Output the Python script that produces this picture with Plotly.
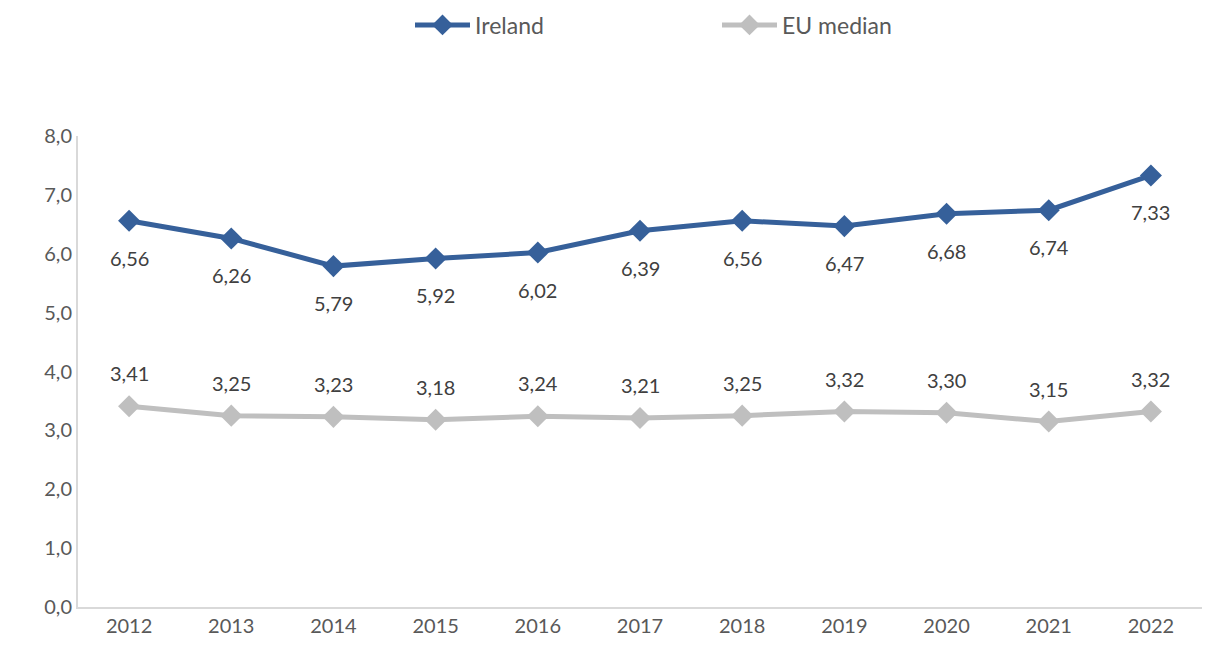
import plotly.graph_objects as go

years = ["2012", "2013", "2014", "2015", "2016", "2017", "2018", "2019", "2020", "2021", "2022"]
ireland = [6.56, 6.26, 5.79, 5.92, 6.02, 6.39, 6.56, 6.47, 6.68, 6.74, 7.33]
eu_median = [3.41, 3.25, 3.23, 3.18, 3.24, 3.21, 3.25, 3.32, 3.30, 3.15, 3.32]
y_ticks = [0, 1, 2, 3, 4, 5, 6, 7, 8]
y_tick_labels = ["0,0", "1,0", "2,0", "3,0", "4,0", "5,0", "6,0", "7,0", "8,0"]

IE_COLOR = "#36609A"
EU_COLOR = "#BFBFBF"
TEXT_COLOR = "#595959"
FONT = "Lato, Open Sans, sans-serif"

def fmt(v):
    return f"{v:.2f}".replace(".", ",")

fig = go.Figure()
fig.add_trace(go.Scatter(
    x=years, y=ireland, name="Ireland", mode="lines+markers",
    line=dict(color=IE_COLOR, width=5),
    marker=dict(symbol="diamond", size=17, color=IE_COLOR),
))
fig.add_trace(go.Scatter(
    x=years, y=eu_median, name="EU median", mode="lines+markers",
    line=dict(color=EU_COLOR, width=5),
    marker=dict(symbol="diamond", size=17, color=EU_COLOR),
))

annotations = []
for i, v in enumerate(ireland):
    annotations.append(dict(x=i, y=v, xref="x", yref="y", text=fmt(v), showarrow=False, yshift=-37,
                            font=dict(size=20, color="#404040", family=FONT)))
for i, v in enumerate(eu_median):
    annotations.append(dict(x=i, y=v, xref="x", yref="y", text=fmt(v), showarrow=False, yshift=33,
                            font=dict(size=20, color="#404040", family=FONT)))

fig.update_layout(
    width=1218, height=654,
    margin=dict(l=78, r=16, t=136, b=47),
    paper_bgcolor="white", plot_bgcolor="white",
    font=dict(family=FONT, size=20, color=TEXT_COLOR),
    showlegend=True,
    legend=dict(orientation="h", xref="container", yref="container",
                x=717 / 1218, xanchor="center", y=1 - 25 / 654, yanchor="middle",
                font=dict(size=23, color=TEXT_COLOR, family=FONT),
                entrywidth=237, itemwidth=55),
    annotations=annotations,
    xaxis=dict(type="category", range=[-0.5, 10.5], showgrid=False, showline=True,
               linecolor="#D9D9D9", linewidth=2, ticks="", tickfont=dict(size=20, color=TEXT_COLOR),
               zeroline=False),
    yaxis=dict(range=[0, 8], tickvals=y_ticks, ticktext=y_tick_labels, showgrid=False,
               showline=True, linecolor="#D9D9D9", linewidth=2, ticks="", zeroline=False,
               tickfont=dict(size=20, color=TEXT_COLOR)),
)

fig.write_html("out.html", config={"displayModeBar": False},
               post_script="document.body.style.margin='0';")
